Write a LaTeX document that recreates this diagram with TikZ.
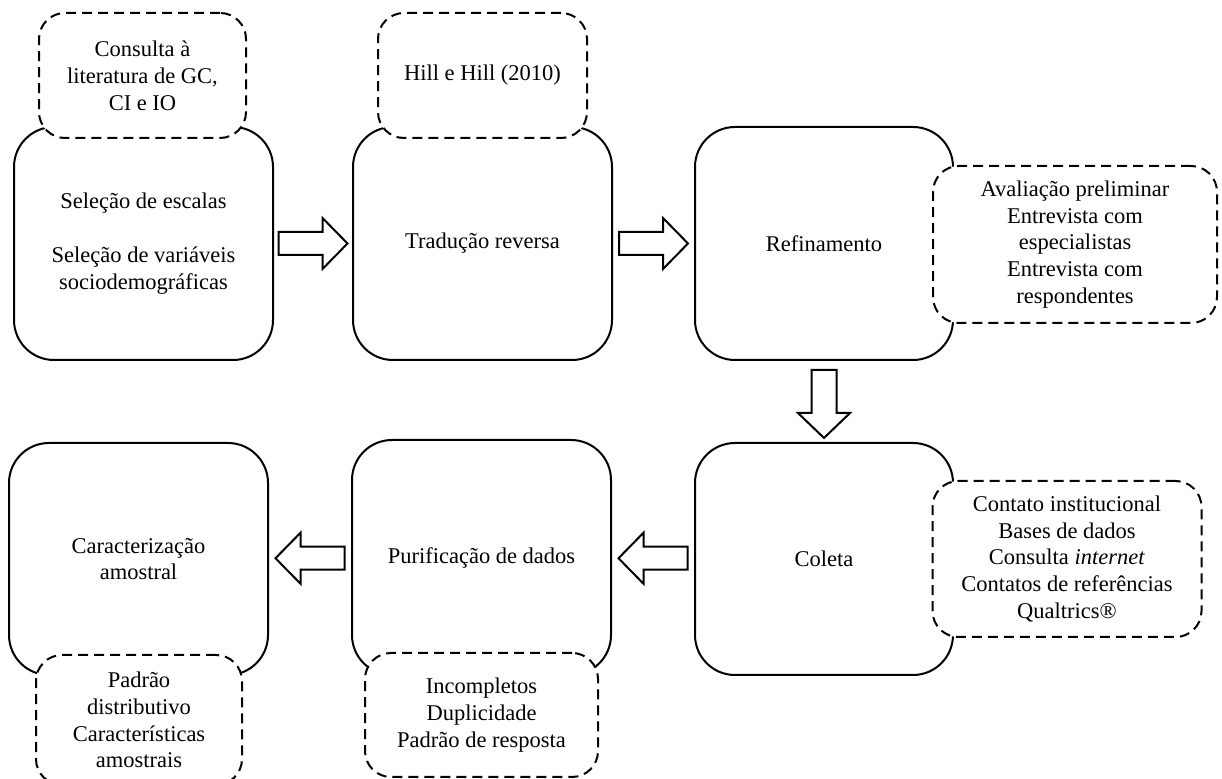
\documentclass[tikz,border=0pt]{standalone}
\usepackage{fontspec}
\setmainfont{Liberation Serif}
\usetikzlibrary{calc}
\begin{document}
\begin{tikzpicture}[x=0.5pt,y=-0.5pt,
  every node/.style={font=\fontsize{11.25pt}{13.4pt}\selectfont, align=center, inner sep=0pt},
  stage/.style={draw, line width=1pt, rounded corners=20pt, fill=white},
  note/.style={draw, line width=1pt, dash pattern=on 5pt off 3pt, rounded corners=13pt, fill=white},
  blk/.style={draw, line width=1pt, fill=white, line join=miter}]
\useasboundingbox (0,0) rectangle (1222,779);

% process stages
\node[stage, minimum width=129.5pt, minimum height=116.5pt] (b1) at (143.5,243.5)
  {Seleção de escalas\\[13.4pt] Seleção de variáveis\\sociodemográficas};
\node[stage, minimum width=129.5pt, minimum height=116.5pt] (b2) at (482.5,243.5) {Tradução reversa};
\node[stage, minimum width=129pt, minimum height=116.5pt] (b3) at (824,243.5) {Refinamento};
\node[stage, minimum width=129pt, minimum height=116pt] (b4) at (824,559) {Coleta};
\node[stage, minimum width=129.5pt, minimum height=117.5pt] (b5) at (481.5,557.5) {Purificação de dados};
\node[stage, minimum width=129.5pt, minimum height=116pt] (b6) at (138.5,559) {Caracterização\\amostral};

% annotations
\node[note, minimum width=103.5pt, minimum height=62.5pt] (d1) at (142.5,75.5)
  {Consulta à\\literatura de GC,\\CI e IO};
\node[note, minimum width=104.5pt, minimum height=62.5pt] (d2) at (482.5,75.5) {Hill e Hill (2010)};
\node[note, minimum width=142pt, minimum height=78.5pt] (d3) at (1075,244.5)
  {Avaliação preliminar\\Entrevista com\\especialistas\\Entrevista com\\respondentes};
\node[note, minimum width=134.5pt, minimum height=78pt] (d4) at (1067,559)
  {Contato institucional\\Bases de dados\\Consulta \textit{internet}\\Contatos de referências\\Qualtrics®};
\node[note, minimum width=116.5pt, minimum height=62pt] (d5) at (481.5,715)
  {Incompletos\\Duplicidade\\Padrão de resposta};
\node[note, minimum width=103pt, minimum height=65pt] (d6) at (139,720)
  {Padrão\\distributivo\\Características\\amostrais};

% block arrows between stages
\draw[blk] ($(b1.east)!0.5!(b2.west)$) ++(-34.5,-11.5) -- ++(44,0) -- ++(0,-14)
  -- ++(25,25.5) -- ++(-25,25.5) -- ++(0,-14) -- ++(-44,0) -- cycle;
\draw[blk] ($(b2.east)!0.5!(b3.west)$) ++(-34.5,-11.5) -- ++(44,0) -- ++(0,-14)
  -- ++(25,25.5) -- ++(-25,25.5) -- ++(0,-14) -- ++(-44,0) -- cycle;
\draw[blk] ($(b3.south)!0.5!(b4.north)$) ++(-12.5,-31.5) -- ++(0,43) -- ++(-13.5,0)
  -- ++(26,25) -- ++(26,-25) -- ++(-13.5,0) -- ++(0,-43) -- cycle;
\draw[blk] ($(b4.west)!0.5!(b5.east)$) ++(34.5,-11.5) -- ++(-44,0) -- ++(0,-14)
  -- ++(-25,25.5) -- ++(25,25.5) -- ++(0,-14) -- ++(44,0) -- cycle;
\draw[blk] ($(b5.west)!0.5!(b6.east)$) ++(34.5,-11.5) -- ++(-44,0) -- ++(0,-14)
  -- ++(-25,25.5) -- ++(25,25.5) -- ++(0,-14) -- ++(44,0) -- cycle;
\end{tikzpicture}
\end{document}
